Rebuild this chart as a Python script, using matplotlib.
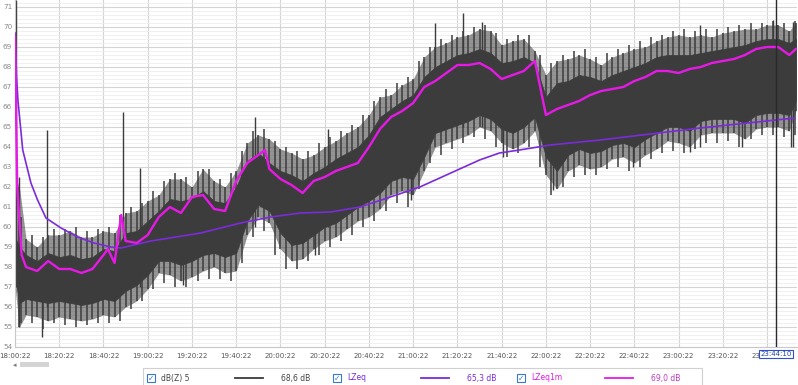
"""Sound level log 18:00:22 - 23:53: dB(Z) 5, LZeq (running) and LZeq1m."""

import matplotlib

matplotlib.use("Agg")
import matplotlib.pyplot as plt  # noqa: E402
from matplotlib.patches import Rectangle  # noqa: E402

W, H = 798, 385
BLACK = "#3c3c3c"
PURPLE = "#7b2bd9"
MAGENTA = "#e619e6"

# --- data (minutes after 18:00:22) ------------------------------------------
# dense core of the dB(Z) 5 band, read every 5 min
core_t = [0, 2, 5, 10, 15, 20, 25, 30, 35, 40, 45, 50, 55, 60, 65, 70, 75, 80, 85, 90,
          95, 100, 105, 110, 115, 120, 125, 130, 135, 140, 145, 150, 155, 160, 165, 170,
          175, 180, 185, 190, 195, 200, 205, 210, 215, 220, 225, 230, 235, 240, 245, 250,
          255, 260, 265, 270, 275, 280, 285, 290, 295, 300, 305, 310, 315, 320, 325, 330,
          335, 340, 345, 350, 353]
core_hi = [59.5, 59.0, 58.6, 58.3, 58.7, 58.5, 58.6, 58.4, 58.5, 58.9, 58.8, 59.7, 59.8,
           60.3, 60.8, 61.4, 61.3, 61.4, 61.8, 61.3, 61.2, 62.0, 63.3, 63.7, 63.2, 62.8,
           62.6, 62.3, 62.7, 63.0, 63.4, 63.7, 64.0, 64.6, 65.5, 65.9, 66.3, 66.6, 67.5,
           68.0, 68.3, 68.6, 68.7, 68.9, 68.7, 68.2, 68.3, 68.5, 68.2, 66.5, 67.2, 67.3,
           67.6, 67.5, 67.3, 67.6, 67.8, 68.0, 68.2, 68.5, 68.6, 68.6, 68.6, 68.7, 68.8,
           68.9, 69.0, 69.1, 69.3, 69.4, 69.4, 69.2, 69.4]
core_lo = [57.5, 56.2, 56.4, 56.3, 56.2, 56.3, 56.2, 56.1, 56.2, 56.4, 56.3, 56.8, 57.1,
           57.6, 58.3, 58.3, 58.1, 58.3, 58.6, 58.7, 58.5, 58.7, 60.3, 61.1, 60.8, 59.7,
           59.1, 59.2, 59.6, 60.0, 60.2, 60.6, 61.0, 61.3, 61.7, 62.3, 62.5, 62.4, 63.5,
           64.7, 64.9, 65.1, 65.3, 65.6, 65.4, 64.9, 64.7, 65.0, 65.5, 63.5, 62.8, 63.6,
           63.9, 63.7, 63.8, 64.1, 64.2, 64.0, 64.4, 64.7, 65.0, 65.0, 64.8, 65.3, 65.4,
           65.4, 65.4, 65.2, 65.6, 65.7, 65.7, 65.6, 66.3]
# min / max reached by the samples at the same instants
env_hi = [62.5, 62.0, 59.4, 59.0, 59.6, 59.6, 59.8, 59.5, 59.5, 59.8, 59.7, 60.7, 60.8,
          61.3, 61.6, 62.4, 62.4, 62.0, 62.9, 62.3, 62.0, 62.8, 64.2, 64.6, 64.4, 63.9,
          63.7, 63.4, 63.6, 64.0, 64.3, 64.7, 65.0, 65.6, 66.5, 66.6, 67.1, 67.4, 68.5,
          69.0, 69.2, 69.5, 69.6, 69.9, 69.8, 69.1, 69.3, 69.4, 68.8, 67.6, 68.3, 68.4,
          68.6, 68.4, 68.1, 68.5, 68.7, 68.9, 69.0, 69.3, 69.5, 69.6, 69.5, 69.6, 69.5,
          69.7, 69.8, 69.9, 69.9, 70.1, 70.1, 69.8, 70.2]
env_lo = [57.0, 55.0, 55.6, 55.5, 55.3, 55.5, 55.4, 55.3, 55.4, 55.6, 55.5, 56.0, 56.3,
          56.9, 57.7, 57.6, 57.3, 57.5, 57.8, 58.0, 57.7, 57.8, 59.6, 60.5, 60.2, 58.9,
          58.3, 58.4, 58.9, 59.3, 59.5, 59.9, 60.3, 60.5, 60.9, 61.6, 61.8, 61.6, 62.8,
          64.0, 64.2, 64.4, 64.6, 65.0, 64.8, 64.2, 63.9, 64.2, 64.8, 62.6, 61.9, 62.8,
          63.1, 62.9, 63.0, 63.4, 63.5, 63.2, 63.6, 63.9, 64.3, 64.2, 64.0, 64.6, 64.7,
          64.7, 64.7, 64.4, 64.9, 65.0, 65.0, 64.8, 65.8]
# min / max half-way between those instants
mid_t = [2.5 + 5 * i for i in range(71)]
mid_hi = [60.5, 59.6, 59.5, 59.9, 59.9, 60.0, 59.8, 59.9, 60.0, 60.6, 61.0, 61.2, 61.8,
          62.3, 62.7, 62.5, 62.8, 62.9, 62.4, 62.7, 63.8, 64.8, 64.9, 64.3, 64.0, 63.8,
          63.8, 64.2, 64.5, 64.8, 65.1, 65.6, 66.3, 66.9, 67.2, 67.5, 68.3, 69.0, 69.4,
          69.6, 69.8, 70.0, 70.1, 69.7, 69.4, 69.6, 69.6, 68.6, 68.2, 68.6, 68.8, 68.9,
          68.5, 68.7, 68.9, 69.1, 69.3, 69.5, 69.6, 69.8, 69.9, 69.8, 69.9, 69.9, 70.0,
          70.1, 70.2, 70.2, 70.3, 70.2, 70.3]
mid_lo = [55.2, 55.2, 54.9, 55.2, 55.1, 55.0, 55.1, 55.2, 55.2, 55.3, 55.9, 56.3, 56.9,
          57.2, 57.0, 57.0, 57.3, 57.4, 57.4, 57.3, 58.2, 59.5, 59.8, 58.6, 57.9, 57.9,
          58.3, 58.6, 59.0, 59.3, 59.6, 60.0, 60.3, 60.8, 61.2, 61.0, 61.9, 63.2, 63.6,
          63.9, 64.2, 64.5, 64.4, 64.0, 63.5, 63.7, 64.0, 63.0, 61.6, 62.0, 62.5, 62.6,
          62.6, 62.9, 63.0, 62.8, 63.0, 63.4, 63.7, 63.8, 63.7, 63.9, 64.2, 64.2, 64.3,
          64.0, 64.4, 64.6, 64.6, 64.5, 64.6]

# single samples sticking well out of the band
spike_t = [0.4, 1.8, 12.2, 14.4, 48.8, 56.4, 75.8, 108.4, 135.4, 141.3, 178.8, 190.0,
           202.3, 211.3, 220.8, 243.3, 279.5, 305.2, 309.7, 328.7, 342.7, 350.8, 351.7]
spike_lo = [57.0, 55.0, 54.5, 56.0, 57.0, 57.0, 57.1, 60.0, 58.6, 60.0, 61.35, 65.0,
            65.0, 65.0, 63.5, 61.85, 63.0, 63.75, 64.0, 64.0, 65.0, 64.0, 64.0]
spike_hi = [71.35, 62.5, 58.0, 64.85, 65.75, 62.95, 60.0, 65.5, 62.0, 64.9, 66.0, 70.2,
            70.7, 70.25, 67.0, 66.0, 68.0, 68.0, 70.1, 68.0, 70.35, 68.0, 70.25]

lzeq1m_t = [0, 1, 3, 5, 10, 15, 20, 25, 30, 35, 40, 42, 45, 48, 50, 55, 60, 65, 70, 75,
            80, 85, 90, 95, 100, 105, 110, 113, 115, 120, 125, 130, 135, 140, 145, 150,
            155, 160, 165, 170, 175, 180, 185, 190, 195, 200, 205, 210, 215, 220, 225,
            230, 235, 240, 245, 250, 255, 260, 265, 270, 275, 280, 285, 290, 295, 300,
            305, 310, 315, 320, 325, 330, 335, 340, 345, 350, 353]
lzeq1m = [69.5, 62.0, 58.6, 58.0, 57.8, 58.3, 57.9, 57.9, 57.7, 57.9, 58.6, 58.9, 58.2,
          60.6, 59.3, 59.2, 59.6, 60.5, 61.0, 60.7, 61.5, 61.6, 60.9, 60.8, 62.3, 63.2,
          63.6, 63.85, 62.9, 62.4, 62.1, 61.7, 62.3, 62.5, 62.8, 63.0, 63.2, 64.0, 64.9,
          65.5, 65.8, 66.2, 67.0, 67.3, 67.7, 68.1, 68.1, 68.2, 67.9, 67.4, 67.6, 67.8,
          68.3, 65.6, 65.9, 66.1, 66.3, 66.6, 66.8, 66.9, 67.0, 67.3, 67.5, 67.8, 67.8,
          67.7, 67.9, 68.0, 68.2, 68.3, 68.4, 68.6, 68.9, 69.0, 69.0, 68.6, 68.9]

lzeq_t = [0, 0.7, 1.35, 3.5, 7.2, 10.2, 14, 20.8, 28.3, 35.7, 43.3, 47.9, 61.4, 84, 102,
          115.6, 129, 142.7, 156, 169.7, 183, 197, 210, 219, 228, 242, 264.6, 309.7, 352.6]
lzeq = [69.7, 67.5, 66.3, 63.85, 62.2, 61.35, 60.45, 59.95, 59.5, 59.2, 59.0, 58.95, 59.3,
        59.7, 60.2, 60.5, 60.7, 60.75, 61.0, 61.5, 62.0, 62.7, 63.35, 63.7, 63.85, 64.1,
        64.35, 64.95, 65.45]

tick_t = list(range(0, 360, 20))
tick_labels = ["18:00:22", "18:20:22", "18:40:22", "19:00:22", "19:20:22", "19:40:22",
               "20:00:22", "20:20:22", "20:40:22", "21:00:22", "21:20:22", "21:40:22",
               "22:00:22", "22:20:22", "22:40:22", "23:00:22", "23:20:22", "23:40:22"]
cursor_t, cursor_label = 343.8, "23:44:10"
legend_items = [("dB(Z) 5", BLACK, "68,6 dB", "#444444"),
                ("LZeq", PURPLE, "65,3 dB", PURPLE),
                ("LZeq1m", MAGENTA, "69,0 dB", "#c03cc0")]


def px(x, y):
    """pixel (from top-left) -> figure fraction"""
    return x / W, 1 - y / H


fig = plt.figure(figsize=(W / 100, H / 100), dpi=100)
ax = fig.add_axes([15 / W, 1 - 347 / H, 782 / W, 347 / H])

ax.fill_between(core_t, env_lo, env_hi, color=BLACK, alpha=0.55, linewidth=0, zorder=2)
ax.fill_between(core_t, core_lo, core_hi, color=BLACK, linewidth=0.5, edgecolor=BLACK, zorder=2)
ax.vlines(core_t, env_lo, env_hi, color=BLACK, linewidth=1.1, zorder=2)
ax.vlines(mid_t, mid_lo, mid_hi, color=BLACK, linewidth=1.1, zorder=2)
ax.vlines(spike_t, spike_lo, spike_hi, color=BLACK, linewidth=1.0, zorder=2)
ax.plot(lzeq_t, lzeq, color=PURPLE, linewidth=1.2, zorder=3)
ax.plot(lzeq1m_t, lzeq1m, color=MAGENTA, linewidth=1.7, zorder=4)
ax.axvline(cursor_t, color="#2a2a2a", linewidth=1.0, zorder=5)

ax.set_xlim(0, 353.5)
ax.set_ylim(54, 71.35)
ax.set_yticks(range(54, 72))
ax.set_yticks([54 + i * 0.2 for i in range(87)], minor=True)
ax.set_xticks(tick_t)
ax.set_xticklabels(tick_labels)
ax.grid(True, which="major", color="#d4d4d4", linewidth=0.8, zorder=0)
ax.grid(True, which="minor", axis="y", color="#eeeeee", linewidth=0.6, zorder=0)
ax.set_axisbelow(True)
ax.tick_params(axis="both", which="both", length=0)
ax.tick_params(axis="y", pad=2, labelsize=5.2, labelcolor="#8a8a8a")
ax.tick_params(axis="x", pad=4, labelsize=5, labelcolor="#555555")
for side in ("top", "right"):
    ax.spines[side].set_visible(False)
ax.spines["left"].set_color("#c8c8c8")
ax.spines["bottom"].set_color("#c8c8c8")

# cursor time box over the last tick label
fig.text(*px(776, 354), cursor_label, ha="center", va="center", fontsize=5,
         color="#2040b0", zorder=6,
         bbox=dict(boxstyle="square,pad=0.2", facecolor="white", edgecolor="#3050d0",
                   linewidth=0.8))

# scrollbar
fig.text(*px(15, 365), "◂", fontsize=5, color="#777777", va="center", ha="center")
fig.patches.append(Rectangle(px(20, 367), 29 / W, 5 / H, transform=fig.transFigure,
                             facecolor="#d4d4d4", edgecolor="none"))

# legend strip
fig.patches.append(Rectangle(px(143, 386), 559 / W, 18 / H, transform=fig.transFigure,
                             facecolor="white", edgecolor="#d0d0d0", linewidth=0.8))
x0 = [147, 333, 517]
for (name, col, val, vcol), xb in zip(legend_items, x0):
    fig.patches.append(Rectangle(px(xb, 382), 8 / W, 8 / H, transform=fig.transFigure,
                                 facecolor="white", edgecolor="#3a78d0", linewidth=0.8))
    fig.text(*px(xb + 4, 378), "✓", fontsize=5.5, color="#3a78d0", ha="center", va="center")
    fig.text(*px(xb + 14, 378), name, fontsize=5.5,
             color="#444444" if col == BLACK else col, va="center")
    fig.lines.append(plt.Line2D([(xb + 88) / W, (xb + 116) / W], [1 - 378 / H] * 2,
                                transform=fig.transFigure, color=col, linewidth=1.3))
    fig.text(*px(xb + 134, 378), val, fontsize=5.5, color=vcol, va="center")

fig.savefig("out.png", dpi=100, facecolor="white")
